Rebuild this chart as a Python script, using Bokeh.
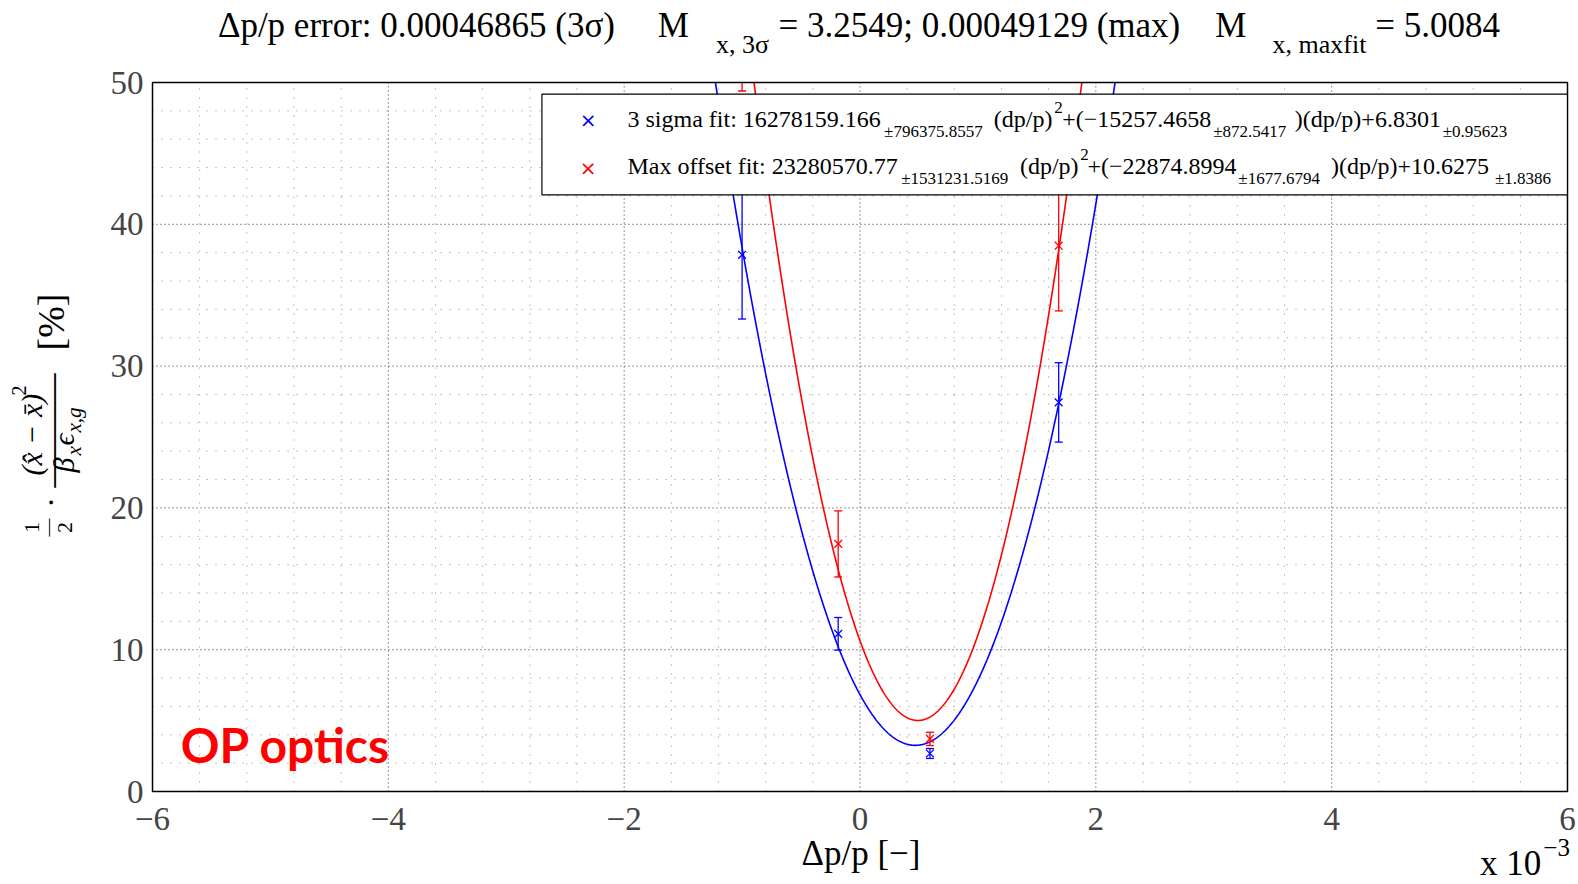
import numpy as np
from bokeh.plotting import figure
from bokeh.models import Label, BoxAnnotation, Range1d
from bokeh.embed import file_html
from bokeh.resources import INLINE

# ---------------- data (dp/p in units of 1e-3) ----------------
dp = [-1.0, -0.185, 0.593, 1.685]
sigma_y = [37.85, 11.12, 2.68, 27.44]
sigma_err = [4.53, 1.15, 0.35, 2.8]
max_y = [56.0, 17.46, 3.71, 38.49]
max_err = [6.6, 2.33, 0.47, 4.6]
sigma_fit = [16278159.166, -15257.4658, 6.8301]   # a, b, c of a*x^2+b*x+c
max_fit = [23280570.77, -22874.8994, 10.6275]
x_ticks = [-6, -4, -2, 0, 2, 4, 6]
x_tick_labels = ["\u22126", "\u22124", "\u22122", "0", "2", "4", "6"]
y_ticks = [0, 10, 20, 30, 40, 50]
y_tick_labels = ["0", "10", "20", "30", "40", "50"]
X0, X1, Y0, Y1 = -6, 6, 0, 50

BLUE = "#0000ff"
RED = "#ff0000"
SERIF = "Liberation Serif"

# ---------------- layout: plot box position inside the canvas ----------------
W, H = 1578, 884
BL, BT, BR, BB = 152, 82, 1567, 791          # box edges in canvas pixels
ux = (X1 - X0) / (BR - BL)
uy = (Y1 - Y0) / (BB - BT)
x_range = Range1d(X0 - BL * ux, X1 + (W - BR) * ux)
y_range = Range1d(Y0 - (H - BB) * uy, Y1 + BT * uy)

p = figure(width=W, height=H, x_range=x_range, y_range=y_range,
           x_axis_location=None, y_axis_location=None,
           min_border=0, output_backend="svg", toolbar_location=None, title=None)
p.min_border_left = p.min_border_right = p.min_border_top = p.min_border_bottom = 0
p.background_fill_color = "white"
p.border_fill_color = "white"
p.outline_line_color = None
p.grid.visible = False

# ---------------- grid ----------------
minor_x = [v for v in np.round(np.arange(X0, X1 + 0.01, 0.4), 3) if v not in x_ticks]
minor_y = [v for v in range(Y0, Y1 + 1, 2) if v not in y_ticks]
p.segment(x0=minor_x, y0=[Y0] * len(minor_x), x1=minor_x, y1=[Y1] * len(minor_x),
          line_color="#8a8a8a", line_dash="1 8", line_width=1)
p.segment(x0=[X0] * len(minor_y), y0=minor_y, x1=[X1] * len(minor_y), y1=minor_y,
          line_color="#8a8a8a", line_dash="1 8", line_width=1)
p.segment(x0=x_ticks, y0=[Y0] * len(x_ticks), x1=x_ticks, y1=[Y1] * len(x_ticks),
          line_color="#333333", line_dash="1 3", line_width=1)
p.segment(x0=[X0] * len(y_ticks), y0=y_ticks, x1=[X1] * len(y_ticks), y1=y_ticks,
          line_color="#333333", line_dash="1 3", line_width=1)

# ---------------- fit curves (evaluated only where they are inside the box) ----------------
xs = np.linspace(X0, X1, 4801)
for fit, col in ((sigma_fit, BLUE), (max_fit, RED)):
    ys = np.polyval(fit, xs * 1e-3)
    keep = ys <= Y1 + 1.5
    p.line(xs[keep], ys[keep], line_color=col, line_width=1.6)

# ---------------- points with error bars (cut at the top of the box) ----------------
for yv, ev, col in ((sigma_y, sigma_err, BLUE), (max_y, max_err, RED)):
    lo = [y - e for y, e in zip(yv, ev)]
    hi = [y + e for y, e in zip(yv, ev)]
    hi_cut = [min(h, Y1 + 1) for h in hi]
    p.segment(x0=dp, y0=lo, x1=dp, y1=hi_cut, line_color=col, line_width=1.3)
    p.scatter(dp, lo, marker="dash", size=8, line_color=col, line_width=1.3)
    top_x = [x for x, h in zip(dp, hi) if h <= Y1]
    top_y = [h for h in hi if h <= Y1]
    p.scatter(top_x, top_y, marker="dash", size=8, line_color=col, line_width=1.3)
    in_x = [x for x, y in zip(dp, yv) if y <= Y1]
    in_y = [y for y in yv if y <= Y1]
    p.scatter(in_x, in_y, marker="x", size=11, line_color=col, line_width=1.3)

# ---------------- hide everything outside the axes box ----------------
ex0, ex1 = x_range.start - 5 * ux, x_range.end + 5 * ux
ey0, ey1 = y_range.start - 5 * uy, y_range.end + 5 * uy
for kw in (dict(bottom=Y1, top=ey1, left=ex0, right=ex1),
           dict(top=Y0, bottom=ey0, left=ex0, right=ex1),
           dict(right=X0, left=ex0, bottom=ey0, top=ey1),
           dict(left=X1, right=ex1, bottom=ey0, top=ey1)):
    p.add_layout(BoxAnnotation(fill_color="white", fill_alpha=1, line_color=None, **kw))
p.add_layout(BoxAnnotation(left=X0, right=X1, bottom=Y0, top=Y1, fill_alpha=0,
                           line_color="black", line_width=1.5, line_alpha=1))

# ---------------- helpers for text ----------------
SX, SY = 1578 / 1568, 884 / 878
MID = {SERIF: 0.35, "Lato": 0.40, "DejaVu Sans": 0.36}


def lab_f(cx, cy, text, size, color="black", font=SERIF, style="normal",
          align="left", baseline="alphabetic", angle=0.0):
    if baseline == "alphabetic":      # place by baseline, drawn centred
        cy = cy - MID.get(font, 0.35) * size
        baseline = "middle"
    lb = Label(x=cx, y=cy, x_units="canvas", y_units="canvas", text=text,
               text_font=font, text_font_size=f"{size}px", text_font_style=style,
               text_color=color, text_align=align, text_baseline=baseline,
               angle=angle, angle_units="rad")
    p.add_layout(lb)
    return lb


def lab_r(xr, yr, text, size, **kw):
    # coordinates
    return lab_f(xr * SX, yr * SY, text, size, **kw)


def dx(cx):
    return X0 + (cx - BL) * ux


def dy(cy):
    return Y0 + (BB - cy) * uy


# ---------------- tick labels ----------------
for t, s in zip(x_ticks, x_tick_labels):
    p.add_layout(Label(x=t, y=Y0, y_offset=-27, text=s, text_font=SERIF,
                       text_font_size="33px", text_align="center", text_baseline="middle"))
for t, s in zip(y_ticks, y_tick_labels):
    p.add_layout(Label(x=X0, y=t, x_offset=-9, text=s, text_font=SERIF,
                       text_font_size="33px", text_align="right", text_baseline="middle"))

# ---------------- legend box ----------------
p.add_layout(BoxAnnotation(left=dx(538 * SX), right=dx(1557 * SX), top=dy(93 * SY),
                           bottom=dy(193 * SY), fill_color="white", fill_alpha=1,
                           line_color="black", line_width=1.2, line_alpha=1))

# ---------------- title ----------------
TB, TS = 37, 53
lab_r(216, TB, "\u0394p/p error: 0.00046865 (3\u03c3)", 35)
lab_r(653, TB, "M", 35)
lab_r(711, TS, "x, 3\u03c3", 26)
lab_r(773, TB, "= 3.2549; 0.00049129 (max)", 35)
lab_r(1207, TB, "M", 35)
lab_r(1264, TS, "x, maxfit", 26)
lab_r(1366, TB, "= 5.0084", 35)

# ---------------- x axis label & multiplier ----------------
lab_r(855, 859, "\u0394p/p [\u2212]", 35, align="center")
lab_r(1470, 869, "x 10", 35)
lab_r(1533, 850, "\u22123", 25)

# ---------------- y axis label (rotated, built from pieces) ----------------
ROT = np.pi / 2
lab_f(31, 527, "1", 22, align="center", baseline="middle", angle=ROT)
lab_f(64, 527, "2", 22, align="center", baseline="middle", angle=ROT)
lab_f(47, 527, "\u2014", 18, align="center", baseline="middle", angle=ROT)
lab_f(50, 502, "\u00b7", 32, align="center", baseline="middle", angle=ROT)
lab_f(31, 475, "(x\u0302 \u2212 x\u0304)", 30, style="italic", align="left", baseline="middle", angle=ROT)
lab_f(18, 395, "2", 20, align="left", baseline="middle", angle=ROT)
lab_f(50, 430, "\u2014\u2014\u2014", 38, align="center", baseline="middle", angle=ROT)
lab_f(63, 472, "\u03b2", 30, style="italic", align="left", baseline="middle", angle=ROT)
lab_f(73, 455, "x", 21, style="italic", align="left", baseline="middle", angle=ROT)
lab_f(63, 445, "\u03f5", 30, style="italic", align="left", baseline="middle", angle=ROT)
lab_f(73, 432, "x,g", 21, style="italic", align="left", baseline="middle", angle=ROT)
lab_f(50, 350, "[%]", 38, align="left", baseline="middle", angle=ROT)

# ---------------- legend entries ----------------
lab_r(584, 119, "\u00d7", 20, color=BLUE, font="DejaVu Sans", align="center", baseline="middle")
lab_r(584, 166, "\u00d7", 20, color=RED, font="DejaVu Sans", align="center", baseline="middle")

R1, R1s, R1p = 126, 136, 112
lab_r(623, R1, "3 sigma fit: 16278159.166", 24)
lab_r(878, R1s, "\u00b1796375.8557", 17)
lab_r(987, R1, "(dp/p)", 24)
lab_r(1047, R1p, "2", 17)
lab_r(1055, R1, "+(\u221215257.4658", 24)
lab_r(1205, R1s, "\u00b1872.5417", 17)
lab_r(1286, R1, ")(dp/p)+6.8301", 24)
lab_r(1433, R1s, "\u00b10.95623", 17)

R2, R2s, R2p = 173, 183, 159
lab_r(623, R2, "Max offset fit: 23280570.77", 24)
lab_r(895, R2s, "\u00b11531231.5169", 17)
lab_r(1013, R2, "(dp/p)", 24)
lab_r(1073, R2p, "2", 17)
lab_r(1080, R2, "+(\u221222874.8994", 24)
lab_r(1230, R2s, "\u00b11677.6794", 17)
lab_r(1322, R2, ")(dp/p)+10.6275", 24)
lab_r(1485, R2s, "\u00b11.8386", 17)

# ---------------- annotation ----------------
lab_r(179, 758, "OP optics", 48, color=RED, font="Lato", style="bold")

open("out.html", "w").write(file_html(p, INLINE))
